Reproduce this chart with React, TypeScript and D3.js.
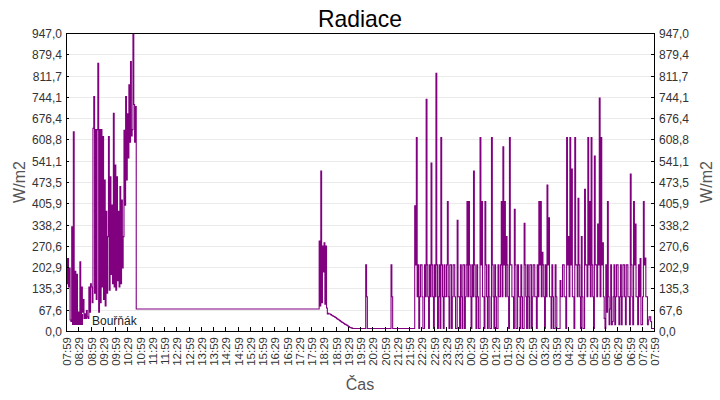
import { useMemo } from 'react'
import * as d3 from 'd3'

const TITLE = 'Radiace'
const SERIES_NAME = 'Bouřňák'
const Y_UNIT = 'W/m2'
const X_TITLE = 'Čas'
const LINE_COLOR = '#800080'

const Y_MAX = 947
const Y_TICKS = [
  '0,0', '67,6', '135,3', '202,9', '270,6', '338,2', '405,9', '473,5',
  '541,1', '608,8', '676,4', '744,1', '811,7', '879,4', '947,0',
]

// one label every 30 minutes, 07:59 -> 07:59 next day
const X_TICKS = [
  '07:59', '08:29', '08:59', '09:29', '09:59', '10:29', '10:59', '11:29',
  '11:59', '12:29', '12:59', '13:29', '13:59', '14:29', '14:59', '15:29',
  '15:59', '16:29', '16:59', '17:29', '17:59', '18:29', '18:59', '19:29',
  '19:59', '20:29', '20:59', '21:29', '21:59', '22:29', '22:59', '23:29',
  '23:59', '00:29', '00:59', '01:29', '01:59', '02:29', '02:59', '03:29',
  '03:59', '04:29', '04:59', '05:29', '05:59', '06:29', '06:59', '07:29',
  '07:59',
]

// morning readings, every 2 min from 07:59
const MORNING_START = '07:59'
const MORNING_STEP = 2
const MORNING = [
  226, 150, 230, 140, 200, 35, 30, 331, 35, 633,
  40, 190, 25, 180, 30, 60, 25, 220, 40, 140,
  60, 100, 40, 55, 40, 65, 45, 40, 140, 60,
  150, 140, 90, 644, 745, 120, 640, 100, 640, 851,
  60, 640, 90, 640, 140, 618, 100, 480, 80, 380,
  120, 300, 618, 130, 490, 180, 400, 150, 692, 140,
  527, 130, 490, 160, 380, 140, 459, 150, 416, 200,
  300, 638, 400, 745, 480, 690, 550, 782, 600, 856,
  620, 640, 947, 720, 600, 713,
]

// sensor stuck at a constant value through the day
const DAY_FLAT: [string, number][] = [['10:51', 70]]

// evening burst and slow decay, every 2 min from 18:19
const EVENING_START = '18:19'
const EVENING_STEP = 2
const EVENING = [
  286, 80, 508, 90, 270, 188, 280, 85, 270, 73,
  54, 56, 54, 54, 52, 50, 49, 47, 46, 44,
  43, 40, 38, 37, 35, 33, 31, 29, 27, 26,
  24, 22, 21, 19, 18, 16, 14, 12, 11, 10,
  9, 8,
]

// isolated blips before the night series
const LATE_POINTS: [string, number][] = [
  ['20:13', 210], ['20:15', 109], ['20:17', 8],
  ['21:15', 210], ['21:17', 109], ['21:19', 8],
]

// night readings, every 2 min from 22:13
const NIGHT_START = '22:13'
const NIGHT_STEP = 2
const NIGHT = [
  398, 210, 615, 109, 210, 8, 109, 210, 210, 109, 8, 8, 210, 109, 736, 210, 109, 8, 210, 109,
  534, 210, 109, 8, 210, 109, 819, 210, 8, 109, 210, 8, 615, 210, 109, 8, 210, 109, 109, 210,
  411, 109, 8, 210, 210, 8, 109, 210, 210, 109, 8, 8, 352, 109, 109, 8, 210, 109, 8, 210,
  210, 8, 109, 210, 411, 109, 411, 210, 109, 8, 210, 109, 508, 210, 109, 8, 210, 109, 8, 8,
  615, 210, 411, 109, 109, 8, 411, 210, 109, 8, 210, 109, 8, 8, 615, 210, 109, 8, 210, 109,
  8, 8, 210, 109, 109, 210, 411, 109, 585, 210, 411, 109, 300, 210, 109, 8, 615, 210, 210, 109,
  109, 8, 387, 210, 8, 8, 210, 109, 109, 8, 210, 109, 8, 8, 342, 210, 109, 8, 210, 109,
  8, 210, 210, 8, 109, 210, 210, 109, 109, 8, 210, 109, 411, 210, 411, 109, 250, 210, 109, 8,
  210, 109, 464, 210, 360, 109, 109, 8, 210, 109, 8, 8, 210, 109, 8, 8, 8, 8, 160, 109,
  109, 210, 210, 109, 109, 8, 615, 210, 300, 109, 615, 210, 515, 109, 109, 8, 615, 210, 210, 109,
  422, 210, 109, 8, 300, 109, 8, 8, 450, 210, 210, 109, 615, 210, 411, 109, 615, 210, 109, 8,
  556, 210, 210, 109, 340, 210, 740, 109, 615, 210, 280, 109, 40, 8, 210, 60, 411, 109, 20, 70,
  210, 20, 30, 109, 210, 20, 109, 210, 210, 109, 20, 109, 210, 20, 109, 210, 210, 109, 20, 210,
  210, 109, 109, 20, 499, 210, 109, 20, 411, 210, 340, 109, 109, 20, 210, 109, 230, 20, 20, 109,
  411, 210, 232, 109, 109, 20, 35, 45, 45, 30, 8, 8, 8, 8,
]

const END_VALUE = 8

const W = 720
const H = 400
const M = { top: 33, right: 66, bottom: 69, left: 66 }
const FONT = '"Liberation Sans", Arial, sans-serif'

const BASE_DAY = new Date(2024, 5, 1)

function atTime(hhmm: string): Date {
  const [h, m] = hhmm.split(':').map(Number)
  const d = new Date(BASE_DAY)
  d.setHours(h, m, 0, 0)
  // anything before 07:59 belongs to the next morning
  if (h * 60 + m < 7 * 60 + 59) return d3.timeDay.offset(d, 1)
  return d
}

type Pt = { t: Date; v: number }

function series(start: string, step: number, values: number[]): Pt[] {
  const t0 = atTime(start)
  return values.map((v, i) => ({ t: d3.timeMinute.offset(t0, i * step), v }))
}

export default function App() {
  const innerW = W - M.left - M.right
  const innerH = H - M.top - M.bottom

  const start = atTime(MORNING_START)
  const end = d3.timeDay.offset(start, 1)

  const x = d3.scaleTime().domain([start, end]).range([M.left, M.left + innerW])
  const y = d3.scaleLinear().domain([0, Y_MAX]).range([M.top + innerH, M.top])

  const points: Pt[] = useMemo(
    () => [
      ...series(MORNING_START, MORNING_STEP, MORNING),
      ...DAY_FLAT.map(([t, v]) => ({ t: atTime(t), v })),
      ...series(EVENING_START, EVENING_STEP, EVENING),
      ...LATE_POINTS.map(([t, v]) => ({ t: atTime(t), v })),
      ...series(NIGHT_START, NIGHT_STEP, NIGHT),
      { t: end, v: END_VALUE },
    ],
    [],
  )

  const line = d3
    .line<Pt>()
    .x((d) => x(d.t))
    .y((d) => y(d.v))
    .curve(d3.curveStepAfter)

  const yTickVals = Y_TICKS.map((_, i) => (i * Y_MAX) / (Y_TICKS.length - 1))
  const xTickVals = X_TICKS.map((_, i) => d3.timeMinute.offset(start, i * 30))

  const left = M.left
  const right = M.left + innerW
  const top = M.top
  const bottom = M.top + innerH

  return (
    <svg
      width={W}
      height={H}
      style={{ position: 'absolute', left: 0, top: 0, background: '#fff' }}
      fontFamily={FONT}
    >
      <defs>
        <clipPath id="plot-clip">
          <rect x={left} y={top} width={innerW} height={innerH} />
        </clipPath>
      </defs>

      <text
        x={W / 2}
        y={27}
        textAnchor="middle"
        fontSize={24}
        textLength={84}
        lengthAdjust="spacingAndGlyphs"
        fill="#000"
      >
        {TITLE}
      </text>

      {/* grid */}
      {yTickVals.map((v, i) => (
        <line
          key={'g' + i}
          x1={left}
          x2={right}
          y1={Math.round(y(v)) + 0.5}
          y2={Math.round(y(v)) + 0.5}
          stroke="#ebebeb"
          strokeWidth={1}
        />
      ))}

      {/* series */}
      <path
        d={line(points) ?? ''}
        fill="none"
        stroke={LINE_COLOR}
        strokeWidth={1.1}
        clipPath="url(#plot-clip)"
      />

      {/* frame */}
      <rect
        x={left + 0.5}
        y={top + 0.5}
        width={innerW}
        height={innerH}
        fill="none"
        stroke="#000"
        strokeWidth={1}
        shapeRendering="crispEdges"
      />

      {/* y ticks both sides */}
      {yTickVals.map((v, i) => {
        const yy = Math.round(y(v)) + 0.5
        return (
          <g key={'y' + i}>
            <line x1={left} x2={left + 3} y1={yy} y2={yy} stroke="#000" />
            <line x1={right - 3} x2={right} y1={yy} y2={yy} stroke="#000" />
            <text
              x={left - 4}
              y={yy}
              dy="0.35em"
              textAnchor="end"
              fontSize={12}
              fill="#333"
            >
              {Y_TICKS[i]}
            </text>
            <text
              x={right + 5}
              y={yy}
              dy="0.35em"
              textAnchor="start"
              fontSize={12}
              fill="#333"
            >
              {Y_TICKS[i]}
            </text>
          </g>
        )
      })}

      {/* x ticks */}
      {xTickVals.map((t, i) => {
        const xx = Math.round(x(t)) + 0.5
        return (
          <g key={'x' + i}>
            <line x1={xx} x2={xx} y1={bottom - 4} y2={bottom} stroke="#000" />
            <text
              transform={`translate(${xx + 4},${bottom + 6}) rotate(-90)`}
              textAnchor="end"
              fontSize={11.5}
              fill="#333"
            >
              {X_TICKS[i]}
            </text>
          </g>
        )
      })}

      {/* axis titles */}
      <text
        transform={`translate(25,${(top + bottom) / 2}) rotate(-90)`}
        textAnchor="middle"
        fontSize={16}
        fill="#555"
      >
        {Y_UNIT}
      </text>
      <text
        transform={`translate(712,${(top + bottom) / 2}) rotate(-90)`}
        textAnchor="middle"
        fontSize={16}
        fill="#555"
      >
        {Y_UNIT}
      </text>
      <text x={(left + right) / 2} y={390} textAnchor="middle" fontSize={16} fill="#555">
        {X_TITLE}
      </text>

      {/* legend */}
      <rect x={72} y={314} width={11} height={11} fill={LINE_COLOR} />
      <text x={92} y={325} fontSize={12} fill="#222">
        {SERIES_NAME}
      </text>
    </svg>
  )
}
